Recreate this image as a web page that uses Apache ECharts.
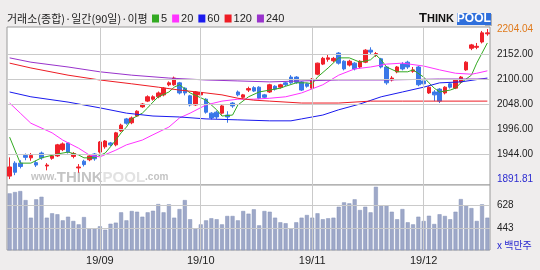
<!DOCTYPE html>
<html><head><meta charset="utf-8">
<script src="https://cdn.jsdelivr.net/npm/echarts@6/dist/echarts.min.js"></script>
<style>html,body{margin:0;padding:0;background:#efeded;}#c{width:540px;height:270px;}</style>
</head><body><div id="c"></div>
<script>
// ---- data ----
const dates = [
 '2019-08-07','2019-08-08','2019-08-09','2019-08-12','2019-08-13','2019-08-14','2019-08-16','2019-08-19','2019-08-20','2019-08-21','2019-08-22','2019-08-23','2019-08-26','2019-08-27','2019-08-28','2019-08-29','2019-08-30',
 '2019-09-02','2019-09-03','2019-09-04','2019-09-05','2019-09-06','2019-09-09','2019-09-10','2019-09-11','2019-09-16','2019-09-17','2019-09-18','2019-09-19','2019-09-20','2019-09-23','2019-09-24','2019-09-25','2019-09-26','2019-09-27','2019-09-30',
 '2019-10-01','2019-10-02','2019-10-04','2019-10-07','2019-10-08','2019-10-10','2019-10-11','2019-10-14','2019-10-15','2019-10-16','2019-10-17','2019-10-18','2019-10-21','2019-10-22','2019-10-23','2019-10-24','2019-10-25','2019-10-28','2019-10-29','2019-10-30','2019-10-31',
 '2019-11-01','2019-11-04','2019-11-05','2019-11-06','2019-11-07','2019-11-08','2019-11-11','2019-11-12','2019-11-13','2019-11-14','2019-11-15','2019-11-18','2019-11-19','2019-11-20','2019-11-21','2019-11-22','2019-11-25','2019-11-26','2019-11-27','2019-11-28','2019-11-29',
 '2019-12-02','2019-12-03','2019-12-04','2019-12-05','2019-12-06','2019-12-09','2019-12-10','2019-12-11','2019-12-12','2019-12-13','2019-12-16','2019-12-17','2019-12-18'];
const openP  = [1898,1925,1925,1941,1936,1926,1946,1919,1935,1940,1953,1967,1939,1915,1929,1932,1944,1948,1959,1967,1963,1992,2017,2009,2023,2042,2054,2058,2063,2067,2088,2088,2092,2081,2065,2046,2067,2058,2029,2031,2029,2025,2050,2073,2062,2077,2082,2083,2067,2073,2085,2083,2092,2104,2104,2094,2090,2081,2110,2131,2141,2138,2154,2137,2129,2133,2125,2135,2160,2150,2142,2125,2098,2115,2131,2135,2116,2125,2096,2071,2073,2079,2071,2090,2081,2094,2119,2164,2166,2177,2194];
const closeP = [1917,1906,1918,1937,1941,1921,1936,1921,1940,1963,1965,1948,1945,1917,1922,1940,1934,1969,1971,1963,1988,2004,2008,2019,2033,2048,2063,2063,2071,2081,2092,2102,2071,2071,2046,2073,2072,2031,2019,2021,2044,2021,2044,2067,2067,2080,2075,2060,2062,2088,2079,2088,2088,2092,2093,2077,2085,2100,2133,2143,2144,2143,2133,2121,2137,2121,2137,2160,2156,2153,2125,2092,2102,2125,2121,2125,2119,2088,2090,2083,2067,2054,2083,2083,2098,2104,2135,2171,2168,2196,2196];
const lowP   = [1891.81,1900,1914,1931,1930,1917,1932,1910,1932,1938,1950,1945,1935,1905,1918,1929,1930,1945,1955,1960,1960,1990,2005,2006,2021,2040,2052,2055,2060,2064,2085,2086,2068,2066,2043,2044,2064,2028,2016,2017,2026,2009,2040,2064,2059,2073,2073,2058,2059,2071,2076,2080,2085,2090,2090,2075,2082,2079,2108,2129,2136,2135,2130,2118,2126,2118,2122,2133,2150,2146,2122,2088,2095,2112,2118,2121,2113,2085,2087,2069,2054,2050,2068,2080,2079,2091,2117,2160,2162,2174,2190];
const highP  = [1937,1929,1931,1945,1946,1930,1949,1925,1943,1965,1968,1969,1948,1923,1932,1944,1946,1971,1973,1969,1990,2007,2019,2022,2035,2050,2066,2066,2074,2083,2095,2105,2094,2083,2067,2075,2075,2060,2031,2034,2046,2033,2052,2076,2069,2084,2085,2085,2069,2090,2087,2090,2094,2108,2106,2096,2092,2102,2134,2146,2150,2146,2156,2139,2140,2135,2139,2162,2166,2156,2144,2127,2106,2127,2135,2138,2125,2127,2098,2085,2077,2081,2085,2092,2100,2106,2137,2173,2175,2200,2204.04];
const volume = [728,739,747,673,528,679,700,528,564,556,506,536,501,473,533,441,441,457,429,478,487,572,506,583,577,536,572,585,640,572,638,528,599,673,515,441,473,506,523,515,473,542,542,506,583,561,597,465,583,577,528,490,482,441,490,528,550,528,564,515,523,528,618,654,646,679,591,618,572,782,630,630,577,515,599,490,473,536,501,544,476,556,542,515,577,681,630,607,501,638,528];
// moving averages: [candle index] and value
const ma5Idx = [0,2,4,6,9,11,13,14,16,18,19,20,21,22,23,25,26,27,28,30,31,32,34,37,39,40,42,43,45,47,49,51,52,54,56,57,58,60,62,64,66,68,69,70,71,73,75,76,78,79,80,81,83,84,85,87,88,90];
const ma5Val = [1979,1925,1925,1936,1944,1948,1942,1936,1936,1946,1959,1973,1988,2000,2017,2029,2040,2052,2063,2073,2083,2088,2071,2056,2036,2023,2025,2046,2063,2073,2077,2081,2085,2092,2092,2090,2104,2123,2144,2144,2135,2140,2150,2140,2125,2115,2115,2119,2104,2092,2081,2073,2077,2081,2092,2108,2133,2175];
const ma20Idx = [0,2,4,8,10,13,15,17,20,22,25,27,30,32,34,37,40,43,46,49,52,55,59,62,65,68,71,74,78,81,84,87,88,90];
const ma20Val = [2050,2029,2008,1988,1973,1956,1942,1938,1952,1963,1973,1984,2000,2019,2029,2046,2054,2058,2058,2060,2063,2071,2088,2108,2121,2125,2131,2133,2127,2119,2112,2110,2112,2117];
const ma60Idx = [0,4,11,17,22,27,32,37,43,49,53,55,59,62,66,70,74,78,81,85,90];
const ma60Val = [2073,2063,2052,2040,2029,2023,2021,2017,2015,2013,2013,2017,2025,2036,2048,2063,2073,2083,2092,2094,2102];
const ma120Idx = [0,4,11,17,23,28,32,37,40,43,46,49,55,62,68,74,81,90];
const ma120Val = [2133,2123,2108,2098,2090,2083,2077,2071,2067,2060,2056,2054,2050,2050,2054,2054,2054,2054];
const ma240Idx = [0,4,11,17,23,30,37,43,49,55,62,71,81,90];
const ma240Val = [2144,2135,2125,2115,2108,2102,2098,2096,2094,2096,2098,2098,2100,2100];
const priceTicks = [1891.81,1944,1996,2048,2100,2152,2204.04];
const priceGrid = [1944,1996,2048,2100,2152];
const volTicks = [443,628];
const maNames = ['5','20','60','120','240'];

// ---- chart ----
const monthStart = dates.map((d,i)=> i>0 && d.slice(5,7)!==dates[i-1].slice(5,7));
const vLines = dates.filter((d,i)=>monthStart[i]).map(d=>({xAxis:d}));
const pairs = (idx,val)=> idx.map((i,k)=>[dates[i], val[k]]);
const gridLine = {color:'#cacaca', width:1, type:'solid'};
const chart = echarts.init(document.getElementById('c'));
const KR = '"Noto Sans CJK KR", sans-serif';
const maColors = ['#33aa22','#ff33ff','#1a1aee','#ee1c24','#9933cc'];
const maData = [pairs(ma5Idx,ma5Val),pairs(ma20Idx,ma20Val),pairs(ma60Idx,ma60Val),pairs(ma120Idx,ma120Val),pairs(ma240Idx,ma240Val)];
chart.setOption({
  animation:false,
  backgroundColor:'#efeded',
  textStyle:{fontFamily:'"Liberation Sans", sans-serif'},
  legend:{left:152, top:13, padding:0, itemWidth:7, itemHeight:8, itemGap:5, icon:'rect',
    data:maNames, textStyle:{fontSize:11, color:'#222', padding:[0,0,0,-3]}},
  graphic:[
    {type:'text', left:7, top:13, z:10, style:{text:'거래소(종합)·일간(90일)·이평', font:'11px '+KR, fill:'#222'}},
    {type:'rect', shape:{x:485,y:14,width:7,height:12}, style:{fill:'#b0b0b0'}, z:10},
    {type:'rect', shape:{x:457,y:13,width:34,height:12}, style:{fill:'#2f6fdc'}, z:11},
    {type:'text', left:419, top:12, z:12, style:{text:'{t|T}{h|HINK}{p|POOL}', rich:{
      t:{font:'900 13px "Liberation Sans"', fill:'#111'},
      h:{font:'900 11px "Liberation Sans"', fill:'#111'},
      p:{font:'bold 12px "Liberation Sans"', fill:'#ffffff', padding:[0,0,0,3]}}}},
    {type:'text', left:31, top:170, z:1, style:{text:'{w|www.}{t|THINK}{p|POOL}{c|.com}', rich:{
      w:{font:'bold 10px "Liberation Sans"', fill:'#c4c4c4'},
      t:{font:'900 15px "Liberation Sans"', fill:'#c4c4c4'},
      p:{font:'900 15px "Liberation Sans"', fill:'#e2e2e2'},
      c:{font:'bold 10px "Liberation Sans"', fill:'#c4c4c4'}}}},
    {type:'text', left:497, top:240, z:10, style:{text:'x 백만주', font:'10px '+KR, fill:'#2b2bd0'}}
  ],
  grid:[
    {left:7, right:50, top:27, height:158, show:true, backgroundColor:'#fff', borderColor:'#9a9a9a', borderWidth:1},
    {left:7, right:50, top:185, height:65, show:true, backgroundColor:'#fff', borderColor:'#9a9a9a', borderWidth:1}
  ],
  xAxis:[
    {type:'category', gridIndex:0, data:dates, axisLine:{show:false}, axisTick:{show:false}, axisLabel:{show:false}, splitLine:{show:false}},
    {type:'category', gridIndex:1, data:dates, axisLine:{show:false}, axisTick:{show:false}, splitLine:{show:false},
      axisLabel:{interval:(i)=>monthStart[i], formatter:(d)=>d.slice(2,4)+'/'+d.slice(5,7), color:'#222', fontSize:11, margin:5}}
  ],
  yAxis:[
    {type:'value', gridIndex:0, position:'right', min:1879.5, max:2208.2, scale:true,
      axisLine:{show:false}, axisTick:{show:false}, splitLine:{show:false},
      axisLabel:{customValues:priceTicks, margin:7, fontSize:10, color:'#222',
        formatter:(v)=> v===2204.04 ? '{hi|2204.04}' : (v===1891.81 ? '{lo|1891.81}' : v.toFixed(2)),
        rich:{hi:{color:'#e07a1c', fontSize:10}, lo:{color:'#2b2bd0', fontSize:10}}}},
    {type:'value', gridIndex:1, position:'right', min:262, max:797,
      axisLine:{show:false}, axisTick:{show:false}, splitLine:{show:false},
      axisLabel:{customValues:volTicks, margin:7, fontSize:10, color:'#222', formatter:(v)=>String(v)}}
  ],
  series:[
    {type:'candlestick', name:'price', xAxisIndex:0, yAxisIndex:0, barWidth:4,
      data: dates.map((d,i)=>[openP[i],closeP[i],lowP[i],highP[i]]),
      itemStyle:{color:'#f0202a', color0:'#3a78e8', borderColor:'#f0202a', borderColor0:'#3a78e8', borderWidth:1},
      markLine:{silent:true, symbol:'none', label:{show:false}, lineStyle:gridLine, animation:false,
        data: priceGrid.map(v=>({yAxis:v})).concat(vLines)}, z:3},
    ...maNames.map((n,k)=>({type:'line', name:n, xAxisIndex:0, yAxisIndex:0, data:maData[k], symbol:'none',
      lineStyle:{width:1, color:maColors[k]}, itemStyle:{color:maColors[k]}, z:4})),
    {type:'bar', name:'volume', xAxisIndex:1, yAxisIndex:1, data:volume, barWidth:4,
      itemStyle:{color:'#9ea8c8', borderColor:'#8592b8', borderWidth:0.5},
      markLine:{silent:true, symbol:'none', label:{show:false}, lineStyle:gridLine, animation:false,
        data: volTicks.map(v=>({yAxis:v})).concat(vLines)}}
  ]
});
</script></body></html>
